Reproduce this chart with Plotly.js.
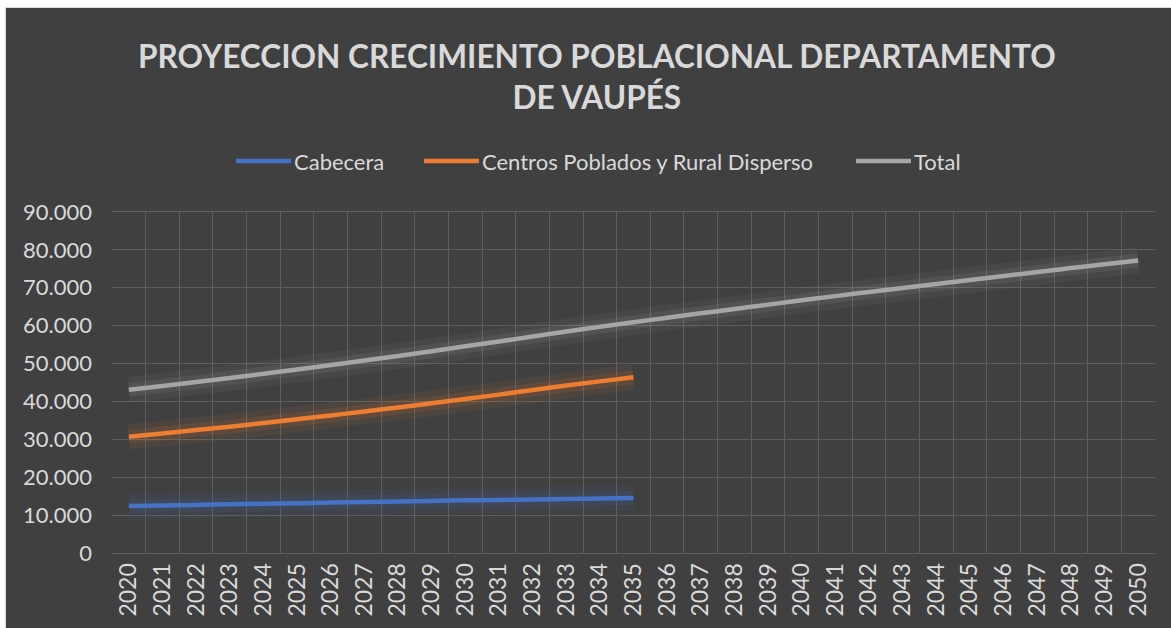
<!DOCTYPE html>
<html>
<head>
<meta charset="utf-8">
<script src="https://cdn.plot.ly/plotly-3.0.1.min.js"></script>
<style>
  html, body { margin: 0; padding: 0; background: #ffffff; overflow: hidden; }
  #frame { position: absolute; left: 5px; top: 7px; width: 1170px; height: 625px;
           border-left: 1px solid #d9d9d9; border-top: 1px solid #d9d9d9; background: #404040; }
  #chart { width: 1170px; height: 625px; }
</style>
</head>
<body>
<div id="frame"><div id="chart"></div></div>
<script>
// ---- data ----
const years = ["2020","2021","2022","2023","2024","2025","2026","2027","2028","2029",
               "2030","2031","2032","2033","2034","2035","2036","2037","2038","2039",
               "2040","2041","2042","2043","2044","2045","2046","2047","2048","2049","2050"];
const yearsShort = years.slice(0, 16);

const cabecera = [12400, 12550, 12700, 12850, 13000, 13150, 13300, 13450, 13600, 13750,
                  13900, 14000, 14150, 14250, 14400, 14500];
const centrosPoblados = [30700, 31550, 32450, 33350, 34300, 35300, 36300, 37350, 38400, 39500,
                         40650, 41800, 43000, 44200, 45300, 46400];
const total = [43100, 44100, 45150, 46200, 47300, 48450, 49600, 50800, 52000, 53250,
               54550, 55800, 57150, 58450, 59700, 60900, 62100, 63250, 64400, 65550,
               66700, 67800, 68900, 69950, 71000, 72050, 73100, 74150, 75200, 76200, 77200];

const seriesNames = ["Cabecera", "Centros Poblados y Rural Disperso", "Total"];
const titleText = "PROYECCION CRECIMIENTO POBLACIONAL DEPARTAMENTO<br>DE VAUPÉS";
const yTickVals = [0, 10000, 20000, 30000, 40000, 50000, 60000, 70000, 80000, 90000];

// ---- styling ----
const colors = ["#4472C4", "#ED7D31", "#A5A5A5"];
const txt = "#d9d9d9";
const font = "Lato, 'Open Sans', sans-serif";

function glow(x, y, c) {
  return [
    { x: x, y: y, type: "scatter", mode: "lines", showlegend: false, hoverinfo: "skip",
      line: { color: c, width: 26, shape: "spline" }, opacity: 0.07 },
    { x: x, y: y, type: "scatter", mode: "lines", showlegend: false, hoverinfo: "skip",
      line: { color: c, width: 14, shape: "spline" }, opacity: 0.12 }
  ];
}

const traces = [].concat(
  glow(yearsShort, cabecera, colors[0]),
  glow(yearsShort, centrosPoblados, colors[1]),
  glow(years, total, colors[2]),
  [
    { x: yearsShort, y: cabecera, name: seriesNames[0], type: "scatter", mode: "lines",
      line: { color: colors[0], width: 4.5, shape: "spline" } },
    { x: yearsShort, y: centrosPoblados, name: seriesNames[1], type: "scatter", mode: "lines",
      line: { color: colors[1], width: 4.5, shape: "spline" } },
    { x: years, y: total, name: seriesNames[2], type: "scatter", mode: "lines",
      line: { color: colors[2], width: 4.5, shape: "spline" } }
  ]
);

const layout = {
  width: 1170, height: 625,
  paper_bgcolor: "#404040", plot_bgcolor: "#404040",
  separators: ",.",
  margin: { l: 106, r: 21, t: 204, b: 80 },
  font: { family: font, color: txt, size: 20 },
  title: {
    text: titleText,
    font: { family: font, size: 31.6, color: txt, weight: "bold" },
    x: 0.505, xanchor: "center", xref: "container",
    y: 0.904, yanchor: "top", yref: "container"
  },
  showlegend: true,
  legend: {
    orientation: "h", x: 0.505, xanchor: "center", y: 0.755, yanchor: "middle",
    xref: "container", yref: "container",
    font: { family: font, size: 22, color: txt },
    itemwidth: 30, bgcolor: "rgba(0,0,0,0)",
    traceorder: "normal"
  },
  xaxis: {
    type: "category", categoryarray: years, categoryorder: "array",
    range: [-0.5, years.length - 0.5],
    tickson: "boundaries", showgrid: true, gridcolor: "#5e5e5e", gridwidth: 1,
    ticks: "", tickangle: -90, tickfont: { family: font, size: 23, color: txt },
    showline: true, linecolor: "#5e5e5e", mirror: true, zeroline: false
  },
  yaxis: {
    range: [0, 90000], tickvals: yTickVals, tickformat: ",d",
    showgrid: true, gridcolor: "#5e5e5e", gridwidth: 1, zeroline: false,
    ticks: "", ticklabelstandoff: 19,
    tickfont: { family: font, size: 22, color: txt },
    showline: false
  }
};

// legend line starts in the reference (page pixels)
const legendLineStarts = [236, 424, 856];
const legendLineLen = 55;

Plotly.newPlot("chart", traces, layout, { displayModeBar: false, staticPlot: true }).then(function (gd) {
  const sb = gd.querySelector(".legend .scrollbox");
  if (sb) sb.removeAttribute("clip-path");
  const items = gd.querySelectorAll(".legend .traces");
  items.forEach(function (g, i) {
    const p = g.querySelector(".legendlines path");
    if (p) p.setAttribute("d", "M0,0h" + legendLineLen);
    const t = g.querySelector("text.legendtext");
    if (t) t.setAttribute("x", legendLineLen + 3);
    const m = /translate\(([-\d.]+)[ ,]+([-\d.]+)\)/.exec(g.getAttribute("transform") || "");
    const ox = m ? parseFloat(m[1]) : 0, oy = m ? parseFloat(m[2]) : 0;
    const ctm = g.getScreenCTM();
    const nx = ox + (legendLineStarts[i] - ctm.e);
    g.setAttribute("transform", "translate(" + nx + "," + oy + ")");
  });
});
</script>
</body>
</html>
